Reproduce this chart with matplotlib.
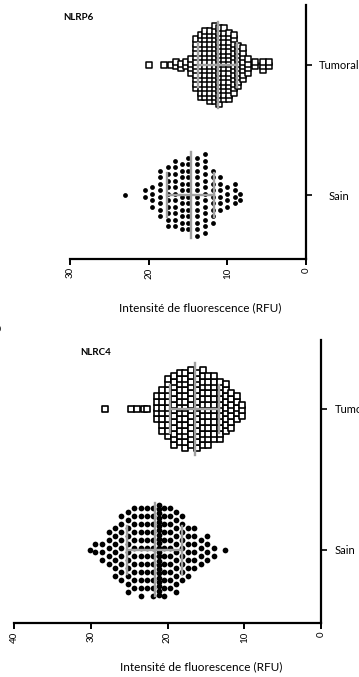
import numpy as np
import matplotlib
matplotlib.use("Agg")
import matplotlib.pyplot as plt

plt.rcParams['font.family'] = ['Lato', 'DejaVu Sans']

# values (RFU) of each column of points and how many points sit in it
# NLRP6
nlrp6_tum_vals = [19.9, 18.1, 17.1, 16.5, 15.9, 15.3, 14.6, 14.0, 13.4, 12.8, 12.2,
                  11.6, 11.0, 10.4, 9.8, 9.2, 8.6, 8.0, 7.4, 6.5, 5.5, 4.7]
nlrp6_tum_counts = [1, 1, 1, 2, 2, 2, 4, 12, 15, 16, 17, 18, 18, 17, 16, 14, 10, 8, 4, 2, 3, 2]
nlrp6_sain_vals = [23.0, 20.5, 19.6, 18.5, 17.5, 16.6, 15.8, 15.0, 13.9, 12.8, 11.8,
                   10.9, 10.1, 9.0, 8.4]
nlrp6_sain_counts = [1, 2, 4, 8, 10, 11, 11, 12, 13, 13, 9, 6, 4, 4, 2]

# NLRC4
nlrc4_tum_vals = [28.1, 24.8, 24.0, 23.1, 22.7, 21.4, 20.7, 19.9, 19.2, 18.4, 17.7, 16.9,
                  16.2, 15.4, 14.7, 13.9, 13.2, 12.4, 11.7, 10.9, 10.3]
nlrc4_tum_counts = [1, 1, 1, 1, 1, 5, 8, 11, 13, 13, 14, 14, 14, 14, 13, 12, 11, 9, 7, 5, 3]
nlrc4_sain_vals = [30.1, 29.4, 28.5, 27.6, 26.8, 26.0, 25.2, 24.4, 23.5, 22.7, 21.9, 21.1,
                   20.4, 19.7, 18.9, 18.1, 17.3, 16.5, 15.6, 14.8, 14.0, 12.5]
nlrc4_sain_counts = [1, 2, 3, 5, 7, 9, 11, 11, 12, 11, 12, 22, 12, 11, 11, 9, 7, 6, 4, 4, 2, 1]

categories = ['Sain', 'Tumoral']
x_ticks_top = [0, 10, 20, 30]
x_ticks_bottom = [0, 10, 20, 30, 40]
xlabel = 'Intensité de fluorescence (RFU)'

GREY = '#a0a0a0'


def swarm(ax, vals, counts, ypos, step, half, **kw):
    # stack the points of each value column around the category line,
    # neighbouring columns shifted by half a step (brick pattern)
    xs, ys = [], []
    for i, (v, n) in enumerate(zip(vals, counts)):
        st = step if n < 2 else min(step, 2 * half / (n - 1))
        off = (np.arange(n) - (n - 1) / 2) * st
        if st == step and n > 1:
            off = off + (step / 4 if i % 2 else -step / 4)
        xs += [v] * n
        ys += list(ypos + off)
    ax.scatter(xs, ys, zorder=2, clip_on=False, **kw)
    data = np.repeat(vals, counts)
    m, sd = data.mean(), data.std(ddof=1)
    ax.plot([m, m], [ypos - 0.33, ypos + 0.33], color=GREY, lw=1.7, zorder=3)
    ax.plot([m - sd, m + sd], [ypos, ypos], color=GREY, lw=1.7, zorder=3)
    for e in (m - sd, m + sd):
        ax.plot([e, e], [ypos - 0.17, ypos + 0.17], color=GREY, lw=1.7, zorder=3)


def style(ax, xmax, ticks, title, title_xy, label_xy, ypad, yha):
    ax.set_xlim(xmax, 0)
    for s in ('left', 'top'):
        ax.spines[s].set_visible(False)
    for s in ('bottom', 'right'):
        ax.spines[s].set_linewidth(1.6)
    ax.set_xticks(ticks)
    ax.set_xticklabels([str(t) for t in ticks], rotation=90, fontsize=7)
    ax.tick_params(axis='x', direction='out', length=4, width=1.4, pad=2)
    ax.yaxis.tick_right()
    ax.set_yticks([0, 1])
    ax.set_yticklabels(categories, fontsize=8, ha=yha)
    ax.tick_params(axis='y', direction='out', length=4, width=1.2, pad=ypad)
    ax.set_xlabel(xlabel, fontsize=8.5)
    ax.xaxis.set_label_coords(*label_xy)
    ax.text(*title_xy, title, transform=ax.transAxes, fontsize=7, fontweight='bold',
            ha='left', va='center')


fig = plt.figure(figsize=(3.59, 6.77), dpi=100)

# top panel: NLRP6
ax1 = fig.add_axes([70 / 359, 1 - 259 / 677, 236 / 359, 254 / 677])
ax1.set_ylim(-0.49, 1.46)
swarm(ax1, nlrp6_tum_vals, nlrp6_tum_counts, 1, 0.034, 0.31,
      marker='s', s=13, facecolors='white', edgecolors='black', linewidths=1.1)
swarm(ax1, nlrp6_sain_vals, nlrp6_sain_counts, 0, 0.05, 0.32,
      marker='o', s=12, color='black', linewidths=0)
style(ax1, 30, x_ticks_top, 'NLRP6', (-0.03, 0.95), (0.55, -0.17), 20, 'center')

# bottom panel: NLRC4
ax2 = fig.add_axes([14 / 359, 1 - 623 / 677, 307 / 359, 283 / 677])
ax2.set_ylim(-0.52, 1.49)
swarm(ax2, nlrc4_tum_vals, nlrc4_tum_counts, 1, 0.041, 0.31,
      marker='s', s=17, facecolors='white', edgecolors='black', linewidths=1.2)
swarm(ax2, nlrc4_sain_vals, nlrc4_sain_counts, 0, 0.057, 0.32,
      marker='o', s=17, color='black', linewidths=0)
style(ax2, 40, x_ticks_bottom, 'NLRC4', (0.215, 0.955), (0.61, -0.135), 6, 'left')

# figure caption cut off by the left border
fig.text(-0.012, 0.53, 'Figure 2', rotation=90, fontsize=9, fontweight='bold',
         ha='center', va='center', color='#333333')

fig.savefig('out.png', dpi=100)
